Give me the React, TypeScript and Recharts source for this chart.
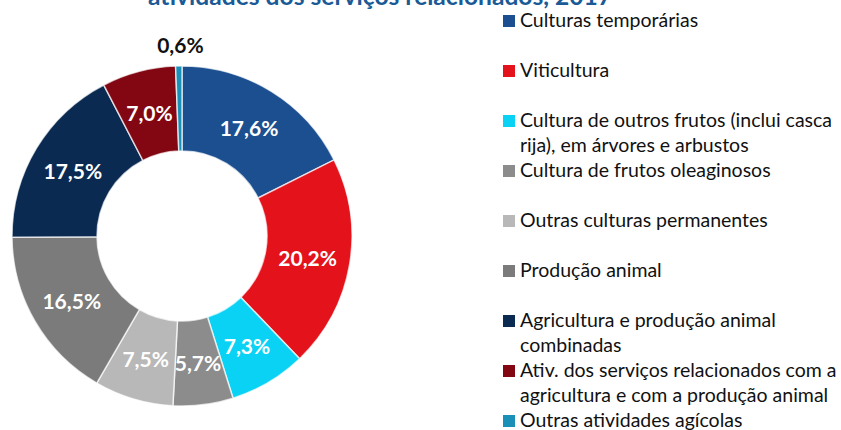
import React from 'react';
import { PieChart, Pie, Cell, Legend } from 'recharts';

// categorias e valores (%)
const categories = [
    'Culturas temporárias',
    'Viticultura',
    'Cultura de outros frutos (inclui casca rija), em árvores e arbustos',
    'Cultura de frutos oleaginosos',
    'Outras culturas permanentes',
    'Produção animal',
    'Agricultura e produção animal combinadas',
    'Ativ. dos serviços relacionados com a agricultura e com a produção animal',
    'Outras atividades agícolas',
];
const values = [17.6, 20.2, 7.3, 5.7, 7.5, 16.5, 17.5, 7.0, 0.6];
const labels = ['17,6%', '20,2%', '7,3%', '5,7%', '7,5%', '16,5%', '17,5%', '7,0%', '0,6%'];
// quebras de linha da legenda, como no original
const legendLines = [
    ['Culturas temporárias'],
    ['Viticultura'],
    ['Cultura de outros frutos (inclui casca', 'rija), em árvores e arbustos'],
    ['Cultura de frutos oleaginosos'],
    ['Outras culturas permanentes'],
    ['Produção animal'],
    ['Agricultura e produção animal', 'combinadas'],
    ['Ativ. dos serviços relacionados com a', 'agricultura e com a produção animal'],
    ['Outras atividades agícolas'],
];
const colors = ['#1b4f8f', '#e3121b', '#0ad2f5', '#8c8c8c', '#b8b8b8', '#7b7b7b', '#0b2a52', '#820712', '#1a90b8'];

const data = categories.map((name, i) => ({ name, value: values[i], label: labels[i] }));

const FONT = 'Lato, "Open Sans", sans-serif';
const RAD = Math.PI / 180;

const renderLabel = (props: any) => {
    const { cx, cy, midAngle, innerRadius, outerRadius, index } = props;
    const outside = values[index] < 2;
    const r = outside ? outerRadius + 22 : (innerRadius + outerRadius) / 2;
    const x = cx + r * Math.cos(-midAngle * RAD) + (outside ? 2 : 0);
    const y = cy + r * Math.sin(-midAngle * RAD);
    return (
        <text x={x} y={y} fill={outside ? '#111' : '#fff'} textAnchor="middle" dominantBaseline="central"
            style={{ fontFamily: FONT, fontWeight: 700, fontSize: 21 }}>
            {labels[index]}
        </text>
    );
};

const renderLegend = () => (
    <div style={{ position: 'relative', fontFamily: FONT, fontSize: 19.5, color: '#111', lineHeight: '25px' }}>
        {legendLines.map((lines, i) => (
            <div key={i} style={{ position: 'absolute', left: 0, top: i * 50, whiteSpace: 'nowrap' }}>
                <span style={{
                    position: 'absolute', left: 0, top: 8, width: 12, height: 12,
                    background: colors[i],
                }} />
                {lines.map((l, j) => (
                    <div key={j} style={{ paddingLeft: 17 }}>{l}</div>
                ))}
            </div>
        ))}
    </div>
);

export default function App() {
    return (
        <div style={{ position: 'absolute', left: 0, top: 0, width: 841, height: 430, overflow: 'hidden', background: '#fff' }}>
            <PieChart width={841} height={430} margin={{ top: 0, right: 0, bottom: 0, left: 0 }}>
                <Pie
                    data={data}
                    dataKey="value"
                    nameKey="name"
                    cx={182}
                    cy={236}
                    innerRadius={85}
                    outerRadius={170}
                    startAngle={90}
                    endAngle={-270}
                    stroke="rgba(255,255,255,0.7)"
                    strokeWidth={1.5}
                    label={renderLabel}
                    labelLine={false}
                    isAnimationActive={false}
                >
                    {data.map((d, i) => (
                        <Cell key={d.name} fill={colors[i]} />
                    ))}
                </Pie>
                <Legend
                    content={renderLegend}
                    layout="vertical"
                    align="right"
                    verticalAlign="top"
                    wrapperStyle={{ position: 'absolute', left: 503, top: 7, width: 338, height: 423, overflow: 'visible' }}
                />
            </PieChart>
            {/* título cortado no topo */}
            <svg width={841} height={20} style={{ position: 'absolute', left: 0, top: 0, pointerEvents: 'none' }}>
                <text x={148} y={4.5} textLength={464} lengthAdjust="spacingAndGlyphs" fill="#1a5a96"
                    style={{ fontFamily: FONT, fontWeight: 700, fontSize: 25 }}>
                    atividades dos serviços relacionados, 2017
                </text>
            </svg>
        </div>
    );
}
